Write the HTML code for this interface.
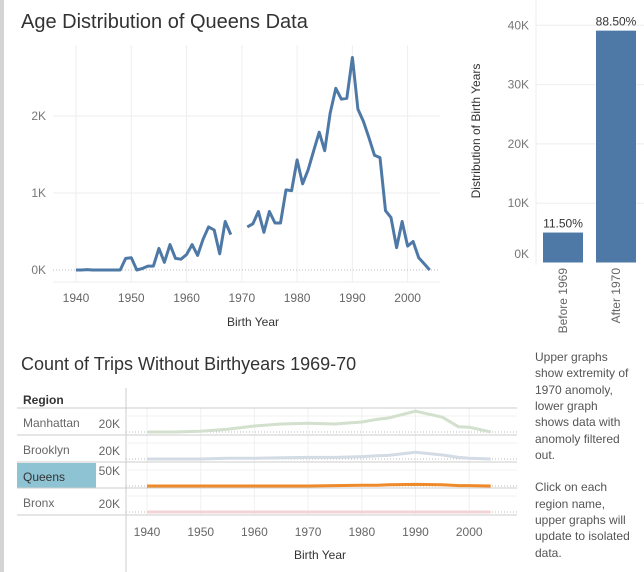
<!DOCTYPE html>
<html><head><meta charset="utf-8"><style>
body{margin:0;background:#fff;width:644px;height:572px;overflow:hidden;font-family:"Liberation Sans",sans-serif}
svg{position:absolute;left:0;top:0}
text{font-family:"Liberation Sans",sans-serif}
</style></head><body>
<svg id="s" width="644" height="572">
<rect x="0" y="0" width="4" height="572" fill="#d4d4d4"/>
<text x="21" y="28" font-size="20" fill="#333">Age Distribution of Queens Data</text>
<g id="main"></g>
<g id="bars"></g>
<text x="21" y="370" font-size="18" fill="#333">Count of Trips Without Birthyears 1969-70</text>
<g id="small"></g>
<text font-size="12" fill="#555">
<tspan x="535" y="361">Upper graphs</tspan><tspan x="535" y="377">show extremity of</tspan><tspan x="535" y="394">1970 anomoly,</tspan><tspan x="535" y="410">lower graph</tspan><tspan x="535" y="426">shows data with</tspan><tspan x="535" y="443">anomoly filtered</tspan><tspan x="535" y="459">out.</tspan><tspan x="535" y="491">Click on each</tspan><tspan x="535" y="508">region name,</tspan><tspan x="535" y="524">upper graphs will</tspan><tspan x="535" y="540">update to isolated</tspan><tspan x="535" y="557">data.</tspan>
</text>
</svg>
<script>
const years=[1940,1941,1942,1943,1944,1945,1946,1947,1948,1949,1950,1951,1952,1953,1954,1955,1956,1957,1958,1959,1960,1961,1962,1963,1964,1965,1966,1967,1968,1969,1970,1971,1972,1973,1974,1975,1976,1977,1978,1979,1980,1981,1982,1983,1984,1985,1986,1987,1988,1989,1990,1991,1992,1993,1994,1995,1996,1997,1998,1999,2000,2001,2002,2003,2004];
const counts=[0,0,5,0,0,0,0,0,0,150,160,0,20,50,50,280,100,330,150,140,200,330,190,400,560,520,210,630,460,null,null,560,600,760,490,760,610,610,1040,1030,1430,1120,1300,1550,1790,1550,2040,2360,2220,2230,2760,2090,1930,1720,1490,1460,770,680,290,630,310,370,160,80,0];
const xTicks=[1940,1950,1960,1970,1980,1990,2000];
const yTicks=[0,1000,2000];
const yTickLabels=["0K","1K","2K"];
const barCats=["Before 1969","After 1970"];
const barVals=[5050,39100];
const barLabels=["11.50%","88.50%"];
const barTicks=[0,10000,20000,30000,40000];
const barTickLabels=["0K","10K","20K","30K","40K"];
const regions=["Manhattan","Brooklyn","Queens","Bronx"];
const regionTick=["20K","20K","50K","20K"];
const regYears=[1940,1945,1950,1955,1960,1965,1970,1975,1980,1983,1985,1990,1995,1998,2000,2004];
const manhattan=[0,0,2,7,15,20,22,20,25,32,35,52,37,13,12,0];
const brooklyn=[0,0,0,2,2,3,4,4,6,8,9,17,10,4,2,0];
const queens=[0,0,0,0,0,0,0,1,2,2,3,4,3,1,1,0];
const bronx=[0,0,0,0,0,0,0,0,0,0,0,0,0,0,0,0];
const regSeries=[manhattan,brooklyn,queens,bronx];
const regColors=["#d3e0cd","#d3dbe5","#ef8a2b","#f2d3d6"];
const NS="http://www.w3.org/2000/svg";
function mk(p,tag,a,txt){const e=document.createElementNS(NS,tag);for(const k in a)e.setAttribute(k,a[k]);if(txt!=null)e.textContent=txt;p.appendChild(e);return e;}
// main chart
const main=document.getElementById('main');
const X=y=>76+(y-1940)*5.527, Y=v=>270-v*0.077;
for(const t of xTicks){const l=mk(main,'line',{x1:X(t),x2:X(t),y1:45,y2:282,stroke:'#eee'});


const tx=mk(main,'text',{x:X(t),y:302,'font-size':12,fill:'#666','text-anchor':'middle'},t);

}
yTicks.forEach((t,i)=>{if(t>0){const l=mk(main,'line',{x1:53,x2:440,y1:Y(t),y2:Y(t),stroke:'#eee'});

}
const tx=mk(main,'text',{x:46,y:Y(t)+4,'font-size':12,fill:'#777','text-anchor':'end'},yTickLabels[i]);

});
const zl=mk(main,'line',{x1:53,x2:440,y1:270,y2:270,stroke:'#bbb','stroke-dasharray':'1,2'});


const bl=mk(main,'line',{x1:53,x2:440,y1:282,y2:282,stroke:'#eee'});


let d='',pen=false;
years.forEach((y,i)=>{const v=counts[i];if(v==null){pen=false;return;}d+=(pen?'L':'M')+X(y).toFixed(1)+','+Y(v).toFixed(1);pen=true;});
const ln=mk(main,'path',{d:d,fill:'none',stroke:'#4e79a7','stroke-width':3,'stroke-linejoin':'round'});


const xt=mk(main,'text',{x:253,y:326,'font-size':12,fill:'#333','text-anchor':'middle'},'Birth Year');


// bar chart
const bars=document.getElementById('bars');
const BY=v=>262.5-v*0.00593;
const vl=mk(bars,'line',{x1:536,x2:536,y1:0,y2:265,stroke:'#eee'});


barTicks.forEach((t,i)=>{if(t>0){const l=mk(bars,'line',{x1:536,x2:644,y1:BY(t),y2:BY(t),stroke:'#eee'});

}
const ly=t===0?258:BY(t)+4;
const tx=mk(bars,'text',{x:529,y:ly,'font-size':12,fill:'#777','text-anchor':'end'},barTickLabels[i]);

});
const yt=mk(bars,'text',{x:0,y:0,'font-size':12,fill:'#333','text-anchor':'middle',transform:'translate(480,131) rotate(-90)'},'Distribution of Birth Years');


barCats.forEach((c,i)=>{const x=543+i*53;
const r=mk(bars,'rect',{x:x,y:BY(barVals[i]),width:40,height:262.5-BY(barVals[i]),fill:'#4e79a7'});


const t=mk(bars,'text',{x:x+20,y:BY(barVals[i])-5,'font-size':12,fill:'#333','text-anchor':'middle'},barLabels[i]);


const cl=mk(bars,'text',{x:0,y:0,'font-size':12,fill:'#666','text-anchor':'end',transform:`translate(${x+24},268) rotate(-90)`},c);

});
// small multiples
const sm=document.getElementById('small');
const SX=y=>147+(y-1940)*5.37;
const rowTop=[408,435,462,488], rowBase=[432,459,486,512];
const hl=mk(sm,'text',{x:23,y:404,'font-size':12,'font-weight':'bold',fill:'#333'},'Region');


const vline=mk(sm,'line',{x1:126,x2:126,y1:388,y2:572,stroke:'#ccc'});


for(const t of xTicks){const l=mk(sm,'line',{x1:SX(t),x2:SX(t),y1:408,y2:515,stroke:'#f0f0f0'});


const tx=mk(sm,'text',{x:SX(t),y:536,'font-size':12,fill:'#666','text-anchor':'middle'},t);

}
regions.forEach((r,i)=>{
if(r==='Queens'){const h=mk(sm,'rect',{x:17,y:463,width:79,height:25,fill:'#8ec3d3'});

}
const rl=mk(sm,'text',{x:23,y:rowTop[i]+19,'font-size':12,fill:r==='Queens'?'#333':'#666'},r);


const tl=mk(sm,'text',{x:120,y:r==='Queens'?rowTop[i]+13:rowTop[i]+20,'font-size':12,fill:'#666','text-anchor':'end'},regionTick[i]);


const g1=mk(sm,'line',{x1:126,x2:517,y1:rowTop[i]+8,y2:rowTop[i]+8,stroke:'#f0f0f0'});


const zl2=mk(sm,'line',{x1:126,x2:517,y1:rowBase[i],y2:rowBase[i],stroke:'#bbb','stroke-dasharray':'1,2'});


const sep=mk(sm,'line',{x1:17,x2:517,y1:rowTop[i],y2:rowTop[i],stroke:'#ccc'});


let dd='';regYears.forEach((y,j)=>{dd+=(j?'L':'M')+SX(y).toFixed(1)+','+(rowBase[i]-regSeries[i][j]*0.4).toFixed(1);});
const p=mk(sm,'path',{d:dd,fill:'none',stroke:regColors[i],'stroke-width':3,'stroke-linejoin':'round'});


});
const lsep=mk(sm,'line',{x1:17,x2:517,y1:515,y2:515,stroke:'#ccc'});


const bt=mk(sm,'text',{x:320,y:559,'font-size':12,fill:'#333','text-anchor':'middle'},'Birth Year');


</script>
</body></html>
